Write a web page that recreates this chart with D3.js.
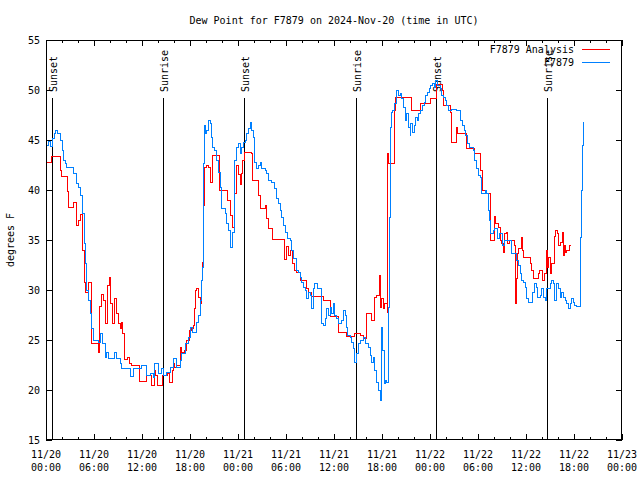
<!DOCTYPE html>
<html>
<head>
<meta charset="utf-8">
<script src="https://cdn.jsdelivr.net/npm/d3@7"></script>
<style>
  html, body { margin: 0; padding: 0; background: #fff; }
  svg text { font-family: "DejaVu Sans Mono", "Liberation Mono", monospace; font-size: 10px; fill: #000; }
</style>
</head>
<body>
<svg id="chart" width="640" height="480"></svg>
<script>
// ---- data ----
const titleText = "Dew Point for F7879 on 2024-Nov-20 (time in UTC)";
const yLabelText = "degrees F";
const seriesNames = ["F7879 Analysis", "F7879"];
const yTickValues = [15, 20, 25, 30, 35, 40, 45, 50, 55];
// hours after 2024-11-20 00:00 UTC
const sunHours = [0.8, 14.67, 24.8, 38.7, 48.7, 62.67];
const sunLabels = ["Sunset", "Sunrise", "Sunset", "Sunrise", "Sunset", "Sunrise"];

// [hours after 11/20 00:00 UTC, dew point F]
const analysis = [
[0,42.8],[0.7,43.4],[1.75,42.0],[1.9,41.4],[2.65,39.9],[2.75,38.3],[3.4,38.8],[3.75,36.5],[4.1,37.0],[4.35,37.6],
[4.6,34.0],[4.75,30.8],[4.95,29.8],[5.3,30.8],[5.7,24.7],[6.55,23.8],[6.67,28.4],[6.9,29.6],[7.15,29.0],[7.45,26.7],
[7.7,30.5],[7.9,31.3],[8.1,28.7],[8.35,26.7],[8.6,29.2],[8.85,27.7],[9.05,26.7],[9.25,26.2],[9.45,26.8],[9.6,25.7],
[9.75,23.1],[10.15,23.3],[10.4,22.7],[10.7,22.5],[11.65,20.9],[12.6,21.5],[13.2,20.5],[13.55,22.0],[13.7,21.5],[13.9,20.5],
[14.6,21.5],[15.2,21.7],[15.4,20.8],[15.75,21.5],[15.85,22.0],[15.95,22.7],[16.1,22.3],[16.35,22.5],[16.75,24.3],[16.95,23.8],
[17.25,24.0],[17.6,25.0],[17.9,26.0],[18.2,26.2],[18.4,26.5],[18.55,28.2],[18.7,30.0],[18.85,30.2],[19.05,29.3],[19.25,28.7],
[19.375,31.0],[19.55,32.8],[19.65,35.3],[19.7,38.5],[19.8,42.3],[20.0,42.5],[20.3,42.3],[20.5,41.3],[20.6,40.8],[20.8,43.5],
[21.65,40.0],[22.7,39.0],[23.05,37.5],[23.35,36.3],[23.6,39.7],[23.8,42.5],[24.05,41.6],[24.25,40.6],[24.4,41.7],[24.5,43.0],
[24.85,43.8],[25.7,43.7],[25.85,41.0],[26.55,39.5],[26.75,38.2],[27.4,38.5],[27.6,37.2],[27.8,36.2],[28.3,35.1],[29.75,33.1],
[30.0,34.4],[30.25,33.5],[30.5,34.0],[30.75,32.7],[31.1,32.0],[31.34,31.8],[31.85,31.0],[32.6,30.2],[32.8,29.8],[33.2,29.4],
[34.67,29.0],[35.5,27.4],[36.62,25.8],[37.6,25.4],[38.6,25.7],[39.25,25.5],[39.66,25.2],[40.1,27.7],[40.71,27.0],[41.1,29.3],
[41.33,29.5],[41.66,31.5],[41.83,28.3],[41.96,29.2],[42.16,28.2],[42.37,28.7],[42.66,27.8],[42.7,43.7],[42.87,42.7],[43.5,47.5],
[43.6,48.0],[43.7,49.3],[45.7,48.0],[46.75,48.7],[48.0,49.2],[48.8,50.6],[49.5,50.0],[49.7,48.5],[50.5,47.8],[50.7,44.8],
[51.25,46.3],[51.45,45.7],[52.6,44.2],[53.6,43.7],[54.25,42.0],[54.6,40.0],[55.0,39.7],[55.5,35.0],[56.1,37.4],[56.2,36.7],
[56.5,36.3],[56.75,35.0],[56.95,34.7],[57.15,33.8],[57.3,35.7],[57.6,35.8],[57.7,34.7],[57.9,35.0],[58.5,34.5],[58.7,28.7],
[58.8,31.2],[58.95,33.7],[59.1,34.2],[59.4,35.3],[59.5,34.0],[59.65,33.3],[60.5,32.7],[60.7,32.0],[60.9,31.2],[61.55,31.7],
[61.65,32.0],[62.1,31.0],[62.25,31.7],[62.5,34.0],[62.65,32.3],[62.85,33.3],[63.0,31.7],[63.2,32.7],[63.5,35.4],[63.7,36.0],
[63.9,35.7],[64.1,34.5],[64.35,34.8],[64.55,35.8],[64.65,33.5],[64.75,34.5],[64.95,33.8],[65.1,34.0],[65.4,34.5],[65.6,34.5]
];

const observed = [
[0,44.5],[0.25,44.9],[0.5,44.4],[0.75,45.2],[1.0,45.7],[1.2,46.0],[1.4,45.7],[1.75,45.0],[2.0,44.0],[2.2,43.0],
[2.4,42.7],[2.6,42.3],[3.25,42.3],[3.4,41.7],[3.75,40.7],[4.0,40.3],[4.25,39.5],[4.5,38.3],[4.6,37.7],[4.75,34.7],
[4.9,32.7],[5.1,30.0],[5.3,29.0],[5.5,27.7],[5.7,26.2],[5.9,25.0],[6.55,24.8],[6.85,25.7],[7.05,24.7],[7.4,23.3],
[7.6,23.8],[7.8,23.2],[8.6,23.8],[8.85,23.2],[9.25,22.7],[9.45,22.2],[10.6,21.4],[10.9,22.2],[11.95,22.5],[12.6,21.5],
[13.0,21.7],[13.4,21.3],[13.6,22.7],[14.05,21.7],[14.4,22.2],[14.65,21.5],[15.1,21.8],[15.5,22.3],[15.9,23.2],[16.35,22.3],
[16.75,23.0],[16.95,23.7],[17.4,24.7],[17.8,25.3],[18.0,26.3],[18.35,25.8],[18.85,26.8],[19.05,27.5],[19.25,29.0],[19.45,31.0],
[19.55,32.3],[19.65,42.7],[19.8,46.5],[19.95,45.7],[20.1,46.0],[20.3,47.0],[20.5,46.7],[20.7,45.3],[20.85,44.3],[21.1,44.0],
[21.35,43.0],[21.55,41.8],[21.75,40.3],[21.95,38.2],[22.4,37.7],[22.6,36.7],[22.8,36.0],[23.0,35.3],[23.1,34.3],[23.35,35.8],
[23.5,38.0],[23.6,43.0],[23.85,44.3],[24.05,44.7],[24.25,43.7],[24.45,44.3],[24.65,44.8],[24.9,45.0],[25.1,45.7],[25.3,46.2],
[25.5,46.8],[25.7,46.0],[25.9,45.3],[26.1,42.8],[26.35,42.2],[26.55,42.5],[26.75,42.8],[26.95,42.2],[27.4,42.0],[27.6,41.7],
[27.8,41.0],[28.2,40.8],[28.6,40.2],[28.85,39.2],[29.05,38.7],[29.25,38.0],[29.45,37.3],[29.65,36.5],[29.9,35.8],[30.15,35.2],
[30.5,35.0],[30.7,34.0],[30.9,33.2],[31.35,32.0],[31.55,31.8],[31.75,31.3],[31.95,30.8],[32.15,30.3],[32.4,30.0],[32.6,29.2],
[32.8,29.8],[33.0,29.5],[33.2,28.2],[33.4,30.2],[33.6,30.7],[33.9,30.2],[34.45,26.7],[34.65,26.5],[34.9,27.2],[35.1,28.2],
[35.3,27.5],[35.5,28.3],[35.7,27.7],[35.9,28.7],[36.1,27.5],[36.35,27.2],[36.55,26.7],[36.95,27.0],[37.15,28.0],[37.4,27.5],
[37.5,26.3],[37.65,25.5],[38.0,25.3],[38.2,24.8],[38.4,24.2],[38.6,22.8],[38.85,23.7],[39.05,24.7],[39.25,25.0],[39.65,25.3],
[39.9,24.7],[40.3,24.3],[40.5,23.5],[40.7,22.8],[40.9,23.3],[41.1,22.0],[41.35,20.8],[41.55,20.0],[41.75,19.0],[41.9,22.2],
[41.95,26.3],[42.05,24.0],[42.25,20.7],[42.45,21.0],[42.6,20.8],[42.8,28.3],[42.9,37.3],[43.1,46.3],[43.2,47.8],[43.35,48.0],
[43.6,48.7],[43.85,50.0],[44.05,49.5],[44.25,49.7],[44.45,49.2],[44.65,48.3],[44.9,47.0],[45.1,47.7],[45.3,46.3],[45.5,45.5],
[45.6,46.7],[45.8,45.8],[46.0,46.5],[46.2,47.3],[46.4,47.0],[46.6,47.7],[46.85,48.0],[47.05,48.5],[47.25,48.8],[47.45,49.5],
[47.65,49.8],[47.9,50.2],[48.1,50.5],[48.3,50.7],[48.5,50.3],[48.7,51.0],[48.9,50.5],[49.25,50.2],[49.45,49.5],[49.65,49.3],
[49.9,49.0],[50.1,48.5],[50.3,48.0],[50.7,48.1],[51.35,48.0],[51.85,47.0],[52.1,46.5],[52.25,46.0],[52.45,45.5],[52.65,44.7],
[52.9,44.3],[53.4,44.0],[53.6,43.0],[53.85,42.2],[54.05,41.5],[54.25,41.3],[54.45,39.7],[54.9,40.0],[55.1,39.7],[55.3,38.0],
[55.4,37.0],[55.5,35.7],[55.9,36.0],[56.1,36.2],[56.45,35.2],[56.65,35.7],[57.1,34.5],[57.25,35.0],[58.2,33.7],[58.85,33.0],
[59.05,32.5],[59.25,31.7],[59.4,31.0],[59.65,30.8],[59.9,30.3],[60.1,29.2],[60.3,28.8],[60.85,29.8],[61.05,30.7],[61.25,30.3],
[61.45,29.3],[61.75,29.5],[61.95,30.2],[62.15,29.3],[62.4,29.0],[62.6,30.2],[63.0,30.7],[63.2,31.0],[63.4,30.7],[63.6,29.0],
[63.85,30.7],[64.05,30.2],[64.25,29.3],[64.45,29.8],[64.65,29.3],[64.9,29.0],[65.1,28.7],[65.3,28.2],[65.5,28.7],[65.7,29.2],
[65.9,28.8],[66.1,28.5],[66.35,28.4],[66.75,30.7],[66.85,35.3],[66.9,40.0],[67.05,44.5],[67.15,46.8]
];

// ---- chart ----
const W = 640, H = 480;
const M = { left: 46, right: 18, top: 40, bottom: 40 };
const t0 = Date.UTC(2024, 10, 20);
const toDate = h => new Date(t0 + h * 3600e3);

const svg = d3.select("#chart");
const x = d3.scaleUtc()
  .domain([toDate(0), toDate(72)])
  .range([M.left, W - M.right]);
const y = d3.scaleLinear()
  .domain([15, 55])
  .range([H - M.bottom, M.top]);

const majorT = x.ticks(d3.utcHour.every(6));
const minorT = x.ticks(d3.utcHour.every(2));

// bottom & top axes (inward ticks)
const gB = svg.append("g").attr("transform", `translate(0,${H - M.bottom})`);
gB.call(d3.axisBottom(x).tickValues(minorT).tickSize(-3).tickFormat(""));
const gB2 = svg.append("g").attr("transform", `translate(0,${H - M.bottom})`);
gB2.call(d3.axisBottom(x).tickValues(majorT).tickSize(-6).tickFormat(""));
const gT = svg.append("g").attr("transform", `translate(0,${M.top})`);
gT.call(d3.axisTop(x).tickValues(minorT).tickSize(-3).tickFormat(""));
const gT2 = svg.append("g").attr("transform", `translate(0,${M.top})`);
gT2.call(d3.axisTop(x).tickValues(majorT).tickSize(-6).tickFormat(""));

// left & right axes
const gL = svg.append("g").attr("transform", `translate(${M.left},0)`);
gL.call(d3.axisLeft(y).tickValues(yTickValues).tickSize(-6).tickPadding(6).tickFormat(d3.format("d")));
const gR = svg.append("g").attr("transform", `translate(${W - M.right},0)`);
gR.call(d3.axisRight(y).tickValues(yTickValues).tickSize(-6).tickFormat(""));

svg.selectAll(".domain").remove();
svg.selectAll(".tick line").attr("stroke", "#000").attr("shape-rendering", "crispEdges");
gL.selectAll(".tick text")
  .style("font-family", '"DejaVu Sans Mono", monospace').style("font-size", "10px").attr("fill", "#000");

// x tick labels (two lines)
const fmtD = d3.utcFormat("%m/%d"), fmtT = d3.utcFormat("%H:%M");
const xl = svg.append("g").selectAll("text").data(majorT).join("text")
  .attr("text-anchor", "middle")
  .attr("x", d => x(d));
xl.append("tspan").attr("x", d => x(d)).attr("y", 458).text(d => fmtD(d));
xl.append("tspan").attr("x", d => x(d)).attr("y", 471).text(d => fmtT(d));

// sun lines
const sun = svg.append("g");
sun.selectAll("line").data(sunHours).join("line")
  .attr("x1", d => Math.round(x(toDate(d))) + 0.5)
  .attr("x2", d => Math.round(x(toDate(d))) + 0.5)
  .attr("y1", 98).attr("y2", H - M.bottom)
  .attr("stroke", "#000").attr("stroke-width", 1);
sun.selectAll("text").data(sunHours).join("text")
  .attr("text-anchor", "start")
  .attr("transform", d => `translate(${Math.round(x(toDate(d))) + 5},92) rotate(-90)`)
  .text((d, i) => sunLabels[i]);

// series
const line = d3.line()
  .x(d => x(toDate(d[0])))
  .y(d => y(d[1]))
  .curve(d3.curveStepAfter);

svg.append("path").datum(analysis)
  .attr("d", line).attr("fill", "none").attr("stroke", "#ff0000").attr("stroke-width", 1)
  .attr("shape-rendering", "crispEdges");
svg.append("path").datum(observed)
  .attr("d", line).attr("fill", "none").attr("stroke", "#0080ff").attr("stroke-width", 1)
  .attr("shape-rendering", "crispEdges");

// frame
svg.append("rect")
  .attr("x", M.left + 0.5).attr("y", M.top + 0.5)
  .attr("width", W - M.left - M.right - 1).attr("height", H - M.top - M.bottom - 1)
  .attr("fill", "none").attr("stroke", "#000").attr("shape-rendering", "crispEdges");

// title
svg.append("text").attr("x", (M.left + W - M.right) / 2).attr("y", 24)
  .attr("text-anchor", "middle").text(titleText);

// y label
svg.append("text").attr("text-anchor", "middle")
  .attr("transform", `translate(14,${(M.top + H - M.bottom) / 2}) rotate(-90)`)
  .text(yLabelText);

// legend
const legColors = ["#ff0000", "#0080ff"];
const leg = svg.append("g");
seriesNames.forEach((name, i) => {
  const ly = 49 + i * 13;
  leg.append("text").attr("x", 574).attr("y", ly + 4).attr("text-anchor", "end").text(name);
  leg.append("line").attr("x1", 582).attr("x2", 610).attr("y1", ly + 0.5).attr("y2", ly + 0.5)
    .attr("stroke", legColors[i]).attr("stroke-width", 1);
});
</script>
</body>
</html>
